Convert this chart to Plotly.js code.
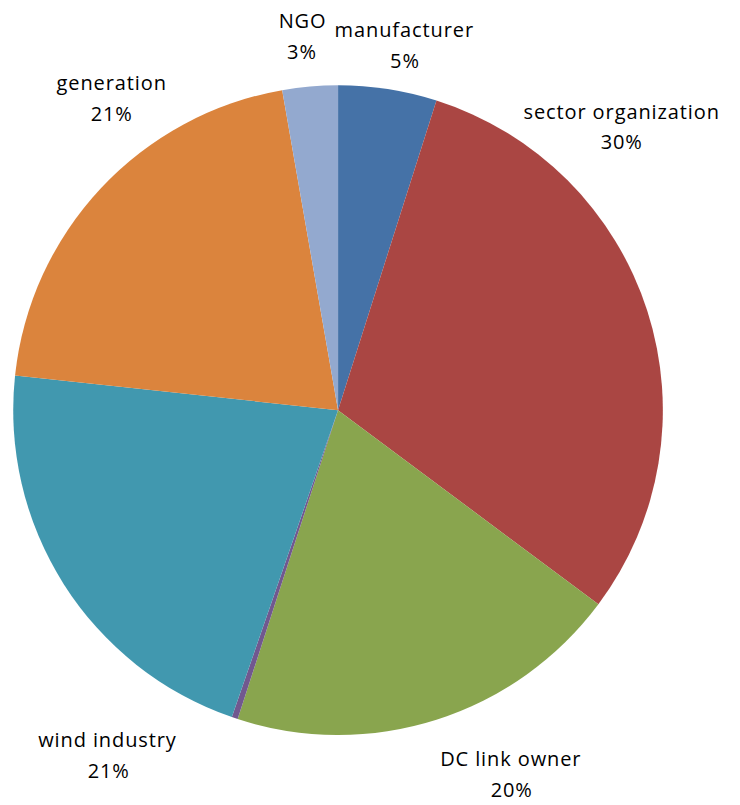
<!DOCTYPE html>
<html>
<head>
<meta charset="utf-8">
<script src="https://cdn.plot.ly/plotly-3.0.1.min.js"></script>
<style>
html,body{margin:0;padding:0;background:#fff;}
#chart{width:740px;height:805px;}
#chart .annotation-text{letter-spacing:0.9px;}
</style>
</head>
<body>
<div id="chart"></div>
<script>
const categories = ["manufacturer", "sector organization", "DC link owner", "other", "wind industry", "generation", "NGO"];
const shares = [4.9, 30.3, 19.8, 0.3, 21.4, 20.55, 2.75];
const colors = ["#4572A7", "#AA4643", "#89A54E", "#71588F", "#4198AF", "#DB843D", "#93A9CF"];
const showLabel = [true, true, true, false, true, true, true];

// label placement (pixel centre of name line in the 740x805 figure), layout only
const labelPx = [[405, 30], [621, 111], [511, 758], null, [108, 739], [111, 82], [302, 21]];
const lineGap = 31;

const W = 740, H = 805;
const total = shares.reduce((a, b) => a + b, 0);
const font = {family: "'Open Sans', Lato, sans-serif", size: 20, color: "#000"};

const annotations = [];
categories.forEach((c, i) => {
  if (!showLabel[i]) return;
  const [px, py] = labelPx[i];
  const pct = Math.round(shares[i] / total * 100) + "%";
  annotations.push({text: c, x: px / W, y: 1 - py / H, xref: "paper", yref: "paper",
    xanchor: "center", yanchor: "middle", showarrow: false, font: font});
  annotations.push({text: pct, x: px / W, y: 1 - (py + lineGap) / H, xref: "paper", yref: "paper",
    xanchor: "center", yanchor: "middle", showarrow: false, font: font});
});

Plotly.newPlot("chart", [{
  type: "pie",
  labels: categories,
  values: shares,
  sort: false,
  direction: "clockwise",
  rotation: 0,
  marker: {colors: colors, line: {width: 0}},
  textinfo: "none",
  hoverinfo: "none",
  domain: {x: [0.0176, 0.896], y: [0.087, 0.894]}
}], {
  width: W, height: H,
  margin: {l: 0, r: 0, t: 0, b: 0},
  showlegend: false,
  paper_bgcolor: "#fff",
  annotations: annotations
}, {displayModeBar: false, staticPlot: true});
</script>
</body>
</html>
